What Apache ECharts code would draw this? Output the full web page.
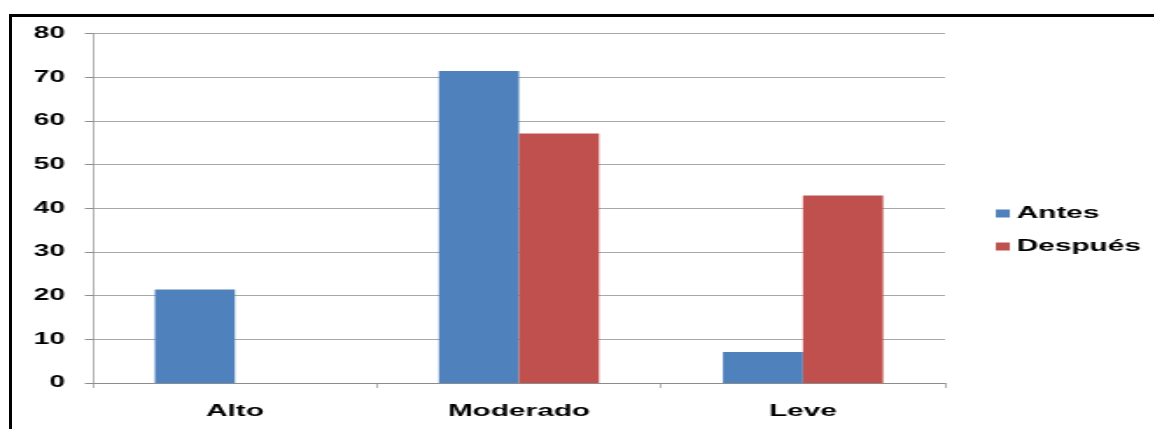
<!DOCTYPE html>
<html>
<head>
<meta charset="utf-8">
<script src="https://cdn.jsdelivr.net/npm/echarts@6/dist/echarts.min.js"></script>
<style>
  html, body { margin: 0; padding: 0; background: #fff; overflow: hidden; }
  #wrap { position: relative; width: 1154px; height: 429px; overflow: hidden; }
  #frame { position: absolute; left: 9px; top: 14px; width: 3000px; height: 3000px;
           border-left: 3px solid #000; border-top: 3px solid #000; box-sizing: border-box; }
  /* the chart is laid out narrow and widened horizontally */
  #chart { position: absolute; left: 0; top: 0; width: 660px; height: 429px;
           transform: scaleX(1.75); transform-origin: 0 0; }
</style>
</head>
<body>
<div id="wrap">
  <div id="chart"></div>
  <div id="frame"></div>
</div>
<script>
const categories = ['Alto', 'Moderado', 'Leve'];
const antes = [21.4, 71.4, 7.1];
const despues = [0, 57.1, 42.9];
const seriesNames = ['Antes', 'Después'];

const chart = echarts.init(document.getElementById('chart'), null, { renderer: 'canvas' });
const labelFont = { fontFamily: 'Liberation Sans, Arial, sans-serif', fontWeight: 'bold', color: '#000' };

chart.setOption({
  animation: false,
  grid: { left: 53.1, right: 120, top: 33.5, bottom: 46 },
  legend: {
    orient: 'vertical',
    left: 564,
    top: 200,
    itemWidth: 8,
    itemHeight: 8,
    itemGap: 16,
    icon: 'rect',
    textStyle: Object.assign({ fontSize: 17, padding: [0, 0, 0, -1] }, labelFont),
    data: seriesNames
  },
  xAxis: {
    type: 'category',
    data: categories,
    axisLine: { lineStyle: { color: '#8c8c8c', width: 1 } },
    axisTick: { show: true, length: 5, lineStyle: { color: '#8c8c8c', width: 0.7 } },
    axisLabel: Object.assign({ fontSize: 17, margin: 20 }, labelFont)
  },
  yAxis: {
    type: 'value',
    min: 0,
    max: 80,
    interval: 10,
    axisLine: { show: true, lineStyle: { color: '#8c8c8c', width: 0.7 } },
    axisTick: { show: true, length: 4.6, lineStyle: { color: '#8c8c8c', width: 1 } },
    splitLine: { lineStyle: { color: '#a8a8a8', width: 1 } },
    axisLabel: Object.assign({ fontSize: 16, margin: 16 }, labelFont)
  },
  series: [
    {
      name: seriesNames[0], type: 'bar', data: antes,
      barGap: '0%', barCategoryGap: '43.6%',
      itemStyle: { color: '#4F81BD' }
    },
    {
      name: seriesNames[1], type: 'bar', data: despues,
      barGap: '0%', barCategoryGap: '43.6%',
      itemStyle: { color: '#C0504D' }
    }
  ]
});
</script>
</body>
</html>
